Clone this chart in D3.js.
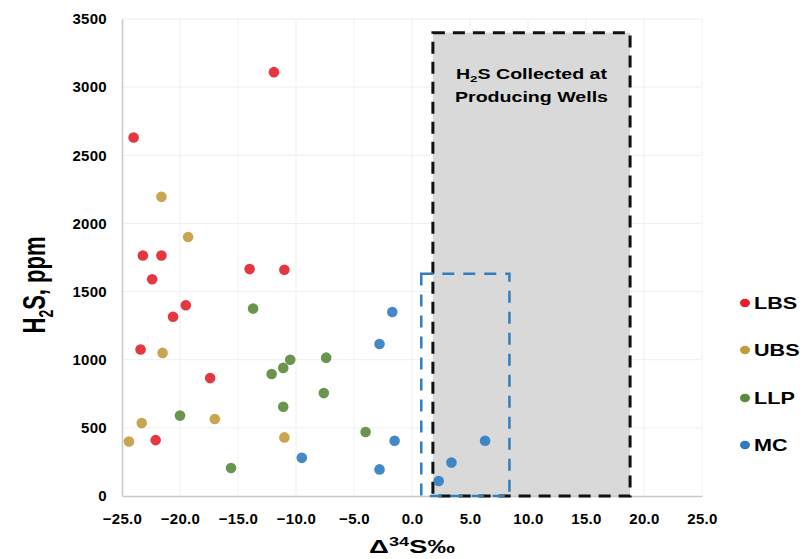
<!DOCTYPE html>
<meta charset="utf-8">
<script src="https://d3js.org/d3.v7.min.js"></script>
<style>
body { margin: 0; background: #fff; }
text { font-family: "Liberation Sans", Arial, sans-serif; font-weight: bold; fill: #000; }
</style>
<div id="chart"></div>
<script>
// series: delta34S (permil) and H2S (ppm)
var groups = ["LBS", "UBS", "LLP", "MC"];
var colors = ["#e3202b", "#c39a3e", "#5a8a3c", "#2f7bc2"];

var lbsX = [-24.0, -11.9, -23.2, -21.6, -14.0, -11.0, -22.4, -19.5, -20.6, -23.4, -17.4, -22.1];
var lbsY = [2630, 3110, 1765, 1765, 1665, 1660, 1590, 1400, 1315, 1075, 865, 410];

var ubsX = [-21.6, -19.3, -21.5, -23.3, -24.4, -17.0, -11.0];
var ubsY = [2195, 1900, 1050, 535, 400, 565, 430];

var llpX = [-13.7, -10.5, -11.1, -12.1, -11.1, -20.0, -15.6, -7.4, -7.6, -4.0];
var llpY = [1375, 1000, 940, 895, 655, 590, 205, 1015, 755, 470];

var mcX = [-1.7, -2.8, -1.5, -9.5, -2.8, 3.4, 6.3, 2.3];
var mcY = [1350, 1115, 405, 280, 195, 245, 405, 110];

var xTicks = [-25, -20, -15, -10, -5, 0, 5, 10, 15, 20, 25];
var yTicks = [0, 500, 1000, 1500, 2000, 2500, 3000, 3500];

// shaded region and blue dashed box, in data units
var wellBox = {x0: 1.8, x1: 18.8, y0: 0, y1: 3400};
var mcBox = {x0: 0.8, x1: 8.4, y0: 0, y1: 1630};

var W = 809, H = 559;
var margin = {top: 19, right: 107, bottom: 63, left: 122};

var svg = d3.select("#chart").append("svg")
  .attr("width", W).attr("height", H);

var x = d3.scaleLinear().domain([-25, 25]).range([margin.left, W - margin.right]);
var y = d3.scaleLinear().domain([0, 3500]).range([H - margin.bottom, margin.top]);

// gridlines
svg.append("g").selectAll("line").data(xTicks.slice(1)).enter().append("line")
  .attr("x1", d => x(d)).attr("x2", d => x(d))
  .attr("y1", y(0)).attr("y2", y(3500))
  .attr("stroke", "#efefef").attr("stroke-width", 1);
svg.append("g").selectAll("line").data(yTicks.slice(1)).enter().append("line")
  .attr("x1", x(-25)).attr("x2", x(25))
  .attr("y1", d => y(d)).attr("y2", d => y(d))
  .attr("stroke", "#efefef").attr("stroke-width", 1);

// grey producing wells box
svg.append("rect")
  .attr("x", x(wellBox.x0)).attr("y", y(wellBox.y1))
  .attr("width", x(wellBox.x1) - x(wellBox.x0))
  .attr("height", y(wellBox.y0) - y(wellBox.y1))
  .attr("fill", "#d9d9d9");

// axes
var xAxis = svg.append("g")
  .attr("transform", "translate(0," + y(0) + ")")
  .call(d3.axisBottom(x).tickValues(xTicks).tickSize(0).tickPadding(17).tickFormat(d3.format(".1f")));
var yAxis = svg.append("g")
  .attr("transform", "translate(" + x(-25) + ",0)")
  .call(d3.axisLeft(y).tickValues(yTicks).tickSize(0).tickPadding(15).tickFormat(d3.format("d")));
[xAxis, yAxis].forEach(function(a) {
  a.select(".domain").attr("stroke", "#c8c8c8").attr("stroke-width", 1.5);
  a.selectAll("text").attr("font-size", "15px").attr("font-weight", "bold")
    .attr("letter-spacing", "0.3px")
    .attr("font-family", "Liberation Sans, Arial, sans-serif").attr("fill", "#000");
});

// dashed outline of grey box
svg.append("rect")
  .attr("x", x(wellBox.x0)).attr("y", y(wellBox.y1))
  .attr("width", x(wellBox.x1) - x(wellBox.x0))
  .attr("height", y(wellBox.y0) - y(wellBox.y1))
  .attr("fill", "none").attr("stroke", "#111")
  .attr("stroke-width", 3).attr("stroke-dasharray", "12 8");

// blue dashed box
svg.append("rect")
  .attr("x", x(mcBox.x0)).attr("y", y(mcBox.y1))
  .attr("width", x(mcBox.x1) - x(mcBox.x0))
  .attr("height", y(mcBox.y0) - y(mcBox.y1))
  .attr("fill", "none").attr("stroke", "#2f7fbf")
  .attr("stroke-width", 2.5).attr("stroke-dasharray", "12 9");

// box label (the picture is stretched sideways, so text is scaled in x)
var cx = (x(wellBox.x0) + x(wellBox.x1)) / 2;
var lbl = svg.append("g").attr("transform", "translate(" + cx + ",0) scale(1.4,1)")
  .append("text").attr("text-anchor", "middle").attr("font-size", "14px");
var t1 = lbl.append("tspan").attr("x", 0).attr("y", 79);
t1.append("tspan").text("H");
t1.append("tspan").text("2").attr("font-size", "9.5px").attr("dy", 3);
t1.append("tspan").text("S Collected at").attr("dy", -3);
lbl.append("tspan").attr("x", 0).attr("y", 102).text("Producing Wells");

// points
var xs = [lbsX, ubsX, llpX, mcX], ys = [lbsY, ubsY, llpY, mcY];
groups.forEach(function(g, i) {
  svg.append("g").selectAll("circle").data(xs[i]).enter().append("circle")
    .attr("cx", d => x(d))
    .attr("cy", (d, j) => y(ys[i][j]))
    .attr("r", 5.3)
    .attr("fill", colors[i])
    .attr("fill-opacity", 0.9);
});

// axis titles
var yt = svg.append("text")
  .attr("transform", "translate(45," + 285 + ") scale(1.4,1) rotate(-90)")
  .attr("text-anchor", "middle").attr("font-size", "22px");
yt.append("tspan").text("H");
yt.append("tspan").text("2").attr("font-size", "14px").attr("dy", 6);
yt.append("tspan").text("S, ppm").attr("dy", -6);

var xt = svg.append("text")
  .attr("transform", "translate(" + ((x(-25) + x(25)) / 2) + ",553) scale(1.45,1)")
  .attr("text-anchor", "middle").attr("font-size", "19px");
xt.append("tspan").text("\u0394");
xt.append("tspan").text("34").attr("font-size", "12.5px").attr("dy", -7);
xt.append("tspan").text("S\u2030").attr("dy", 7);

// legend
var legendY = [303, 350, 398, 445];
groups.forEach(function(g, i) {
  svg.append("ellipse").attr("cx", 745).attr("cy", legendY[i]).attr("rx", 5).attr("ry", 4.2).attr("fill", colors[i]);
  svg.append("text")
    .attr("transform", "translate(754," + (legendY[i] + 6) + ") scale(1.35,1)")
    .attr("font-size", "16px").text(g);
});
</script>
